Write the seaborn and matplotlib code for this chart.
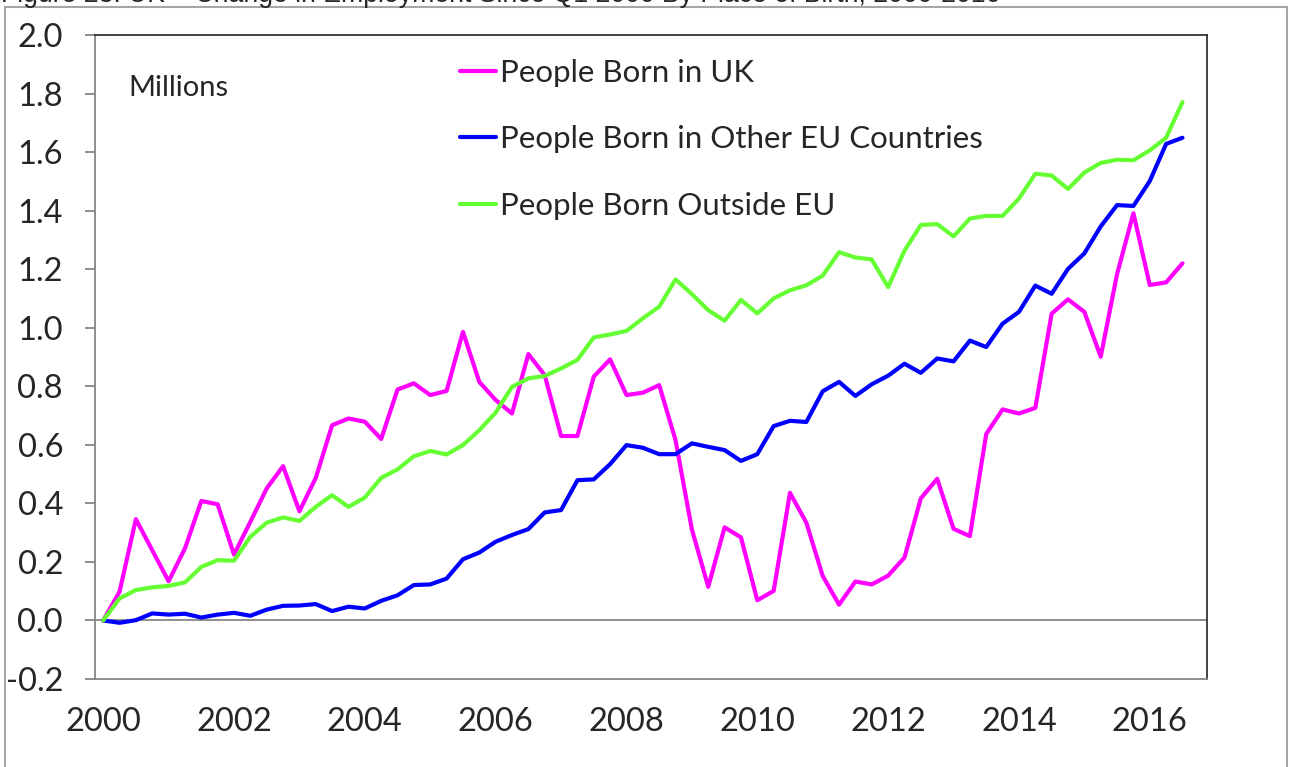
import numpy as np
import pandas as pd
import seaborn as sns
import matplotlib.pyplot as plt
from matplotlib.patches import Rectangle

# quarterly, 2000 Q1 .. 2016 Q3, change since Q1 2000 (millions)
quarter_index = np.arange(67)

uk = [0.000, 0.098, 0.346, 0.240, 0.134, 0.246, 0.408, 0.397, 0.225, 0.337,
      0.451, 0.527, 0.373, 0.487, 0.667, 0.690, 0.679, 0.620, 0.789, 0.810,
      0.770, 0.784, 0.986, 0.815, 0.753, 0.707, 0.910, 0.838, 0.630, 0.630,
      0.833, 0.892, 0.770, 0.778, 0.804, 0.616, 0.311, 0.115, 0.318, 0.284,
      0.069, 0.101, 0.436, 0.334, 0.152, 0.054, 0.133, 0.123, 0.153, 0.215,
      0.417, 0.484, 0.313, 0.288, 0.637, 0.721, 0.707, 0.726, 1.048, 1.097,
      1.054, 0.901, 1.183, 1.391, 1.146, 1.155, 1.220]

other_eu = [0.000, -0.008, 0.001, 0.024, 0.020, 0.023, 0.010, 0.020, 0.026, 0.016,
            0.037, 0.050, 0.051, 0.056, 0.032, 0.047, 0.041, 0.067, 0.086, 0.121,
            0.123, 0.143, 0.209, 0.232, 0.269, 0.292, 0.312, 0.369, 0.377, 0.479,
            0.482, 0.534, 0.599, 0.590, 0.568, 0.568, 0.605, 0.593, 0.582, 0.545,
            0.568, 0.664, 0.682, 0.678, 0.783, 0.815, 0.767, 0.807, 0.836, 0.877,
            0.846, 0.895, 0.885, 0.956, 0.934, 1.014, 1.054, 1.144, 1.116, 1.201,
            1.254, 1.346, 1.419, 1.416, 1.501, 1.628, 1.649]

outside_eu = [0.000, 0.075, 0.104, 0.113, 0.118, 0.130, 0.183, 0.206, 0.204, 0.286,
              0.334, 0.352, 0.340, 0.388, 0.428, 0.388, 0.420, 0.487, 0.516, 0.561,
              0.579, 0.567, 0.599, 0.650, 0.710, 0.798, 0.827, 0.835, 0.861, 0.890,
              0.967, 0.977, 0.989, 1.032, 1.072, 1.165, 1.115, 1.060, 1.024, 1.095,
              1.049, 1.100, 1.128, 1.145, 1.178, 1.258, 1.240, 1.233, 1.139, 1.263,
              1.351, 1.354, 1.312, 1.373, 1.382, 1.382, 1.441, 1.526, 1.520, 1.474,
              1.530, 1.563, 1.574, 1.572, 1.606, 1.649, 1.771]

series_names = ["People Born in UK", "People Born in Other EU Countries", "People Born Outside EU"]
colours = ["#FF00FF", "#0000FF", "#66FF33"]
year_ticks = [0, 8, 16, 24, 32, 40, 48, 56, 64]
year_labels = ["2000", "2002", "2004", "2006", "2008", "2010", "2012", "2014", "2016"]
y_ticks = [-0.2, 0.0, 0.2, 0.4, 0.6, 0.8, 1.0, 1.2, 1.4, 1.6, 1.8, 2.0]

title = "Figure 23: UK \u2013 Change in Employment Since Q1 2000 By Place of Birth, 2000-2016"

df = pd.DataFrame({
    "q": np.tile(quarter_index, 3),
    "value": uk + other_eu + outside_eu,
    "series": np.repeat(series_names, len(quarter_index)),
})

sns.set_style("white")
plt.rcParams['font.family'] = ['Lato', 'DejaVu Sans']

fig = plt.figure(figsize=(12.9, 7.67), dpi=100)
ax = fig.add_axes([95 / 1290, 88 / 767, 1112 / 1290, 644 / 767])

ax.axhline(0, color="#868686", lw=1.3, zorder=1)
sns.lineplot(data=df, x="q", y="value", hue="series", hue_order=series_names,
             palette=dict(zip(series_names, colours)), lw=3, sort=False, ax=ax, zorder=3)

ax.set_xlim(-0.5, 67.5)
ax.set_ylim(-0.2, 2.0)
ax.set_xticks(year_ticks)
ax.set_xticklabels(year_labels)
ax.set_yticks(y_ticks)
ax.set_yticklabels([f"{v:.1f}" for v in y_ticks])
ax.set_xlabel("")
ax.set_ylabel("")
ax.tick_params(axis="y", direction="out", length=7, width=1.3, color="#868686",
               pad=16, labelsize=23.5, left=True)
ax.tick_params(axis="x", length=0, pad=20, labelsize=23.5)

for side in ["left", "bottom"]:
    ax.spines[side].set_color("#868686")
    ax.spines[side].set_linewidth(1.3)
for side in ["top", "right"]:
    ax.spines[side].set_color("#222222")
    ax.spines[side].set_linewidth(1.2)

handles, labels = ax.get_legend_handles_labels()
leg = ax.legend(handles, labels, loc="upper left", bbox_to_anchor=(0.328, 0.963),
                frameon=False, fontsize=22.5, handlelength=1.17, handletextpad=0.11,
                labelspacing=1.23, borderpad=0, borderaxespad=0)
for h in leg.get_lines():
    h.set_linewidth(3)

ax.text(0.0297, 0.918, "Millions", transform=ax.transAxes, fontsize=21,
        ha="left", va="center")

# outer chart frame, bottom edge runs off the picture
fig.patches.append(Rectangle((5 / 1290, -0.05), 1282 / 1290, 1.05 - 7 / 767,
                             transform=fig.transFigure, fill=False,
                             edgecolor="#A6A6A6", lw=1.5))
fig.text(1 / 1290, 1 - 2 / 767, title, family=["Liberation Sans", "DejaVu Sans"],
         fontsize=19.2, ha="left", va="baseline")

fig.savefig("out.png", dpi=100)
